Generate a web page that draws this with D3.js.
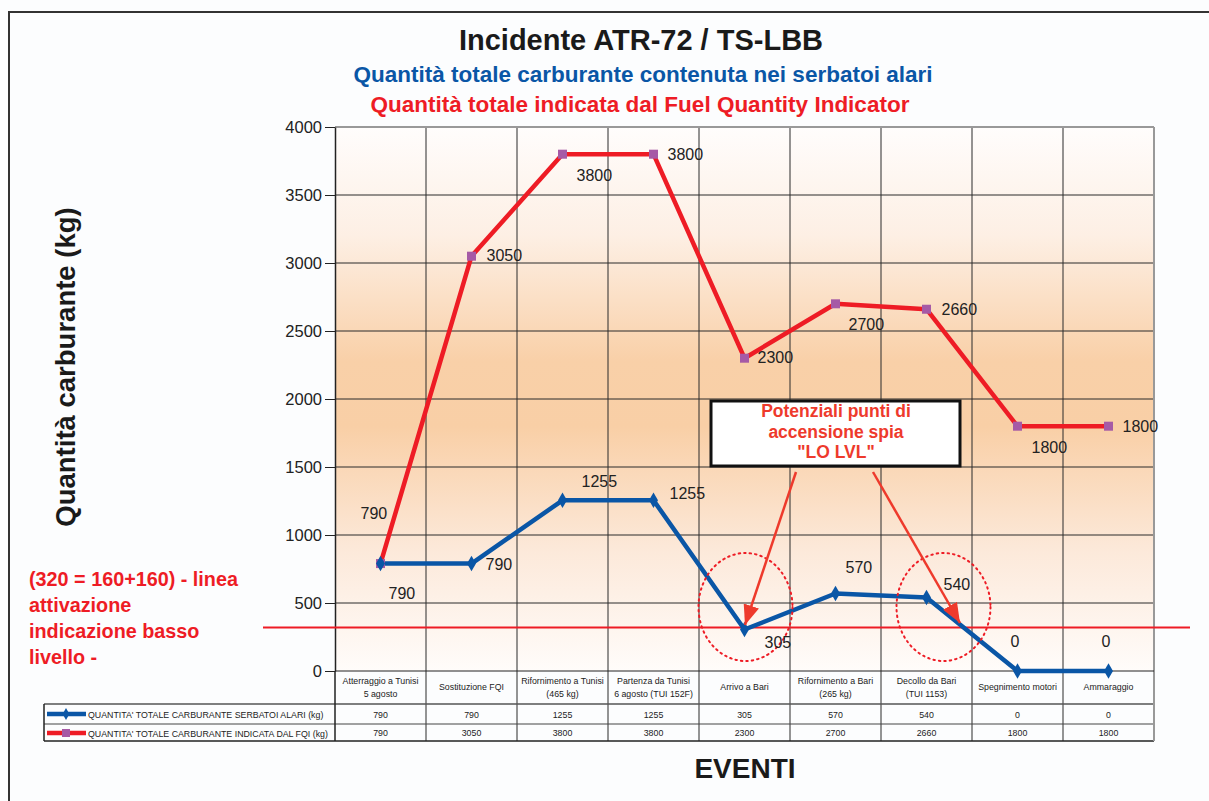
<!DOCTYPE html>
<html><head><meta charset="utf-8">
<script src="https://cdn.jsdelivr.net/npm/d3@7"></script>
<style>body{margin:0;background:#fcfdfe;font-family:"Liberation Sans",Arial,sans-serif;}</style>
</head><body><svg id="c" width="1209" height="801"></svg>
<script>
const categories = [
  ["Atterraggio a Tunisi","5 agosto"],
  ["Sostituzione FQI"],
  ["Rifornimento a Tunisi","(465 kg)"],
  ["Partenza da Tunisi","6 agosto (TUI 152F)"],
  ["Arrivo a Bari"],
  ["Rifornimento a Bari","(265 kg)"],
  ["Decollo da Bari","(TUI 1153)"],
  ["Spegnimento motori"],
  ["Ammaraggio"]
];
const serbatoi = [790, 790, 1255, 1255, 305, 570, 540, 0, 0];
const fqi = [790, 3050, 3800, 3800, 2300, 2700, 2660, 1800, 1800];
const yTicks = [0, 500, 1000, 1500, 2000, 2500, 3000, 3500, 4000];
const threshold = 320;
const seriesNames = ["QUANTITA' TOTALE CARBURANTE SERBATOI ALARI (kg)", "QUANTITA' TOTALE CARBURANTE INDICATA DAL FQI (kg)"];
// label offsets per point (layout only): [dx, dy] from the marker, text starts at dx
const blueLabelOff = [[8,35],[14,6],[19,-13],[16,-1],[20,18],[10,-20],[17,-8],[-7,-24],[-7,-24]];
const redLabelOff = [[-20,-45],[15,5],[14,27],[14,6],[13,5],[13,26],[15,6],[14,27],[14,6]];

(function(){
const svg = d3.select("#c");
const pL = 335, pR = 1154, pT = 127, pB = 671;
const x = d3.scaleBand().domain(d3.range(categories.length)).range([pL, pR]);
const y = d3.scaleLinear().domain([0, 4000]).range([pB, pT]);
const cx = i => x(i) + x.bandwidth() / 2;

// outer frame
svg.append("path").attr("d", "M9,801 L9,12 L1209,12").attr("fill","none").attr("stroke","#333").attr("stroke-width",2);

// gradient
const defs = svg.append("defs");
const g = defs.append("linearGradient").attr("id","bg").attr("x1",0).attr("y1",0).attr("x2",0).attr("y2",1);
[[0,"#fffdfc"],[0.2,"#fdefe4"],[0.43,"#f9d0a8"],[0.55,"#f9cfa6"],[0.78,"#fce9da"],[1,"#fffcfa"]].forEach(s=>g.append("stop").attr("offset",s[0]).attr("stop-color",s[1]));
svg.append("rect").attr("x",pL).attr("y",pT).attr("width",pR-pL).attr("height",pB-pT).attr("fill","url(#bg)");

// horizontal gridlines
svg.append("g").selectAll("line").data(yTicks.filter(t=>t>0 && t<4000)).join("line")
  .attr("x1",pL).attr("x2",pR).attr("y1",d=>y(d)).attr("y2",d=>y(d)).attr("stroke","#2a2a2a").attr("stroke-width",1);

// table
const tRow0 = pB, tRow1 = 704, tRow2 = 724, tRow3 = 741, tLeft = 44;
svg.append("g").selectAll("line").data(d3.range(1, categories.length)).join("line")
  .attr("x1",d=>x(d)).attr("x2",d=>x(d)).attr("y1",pT).attr("y2",tRow3).attr("stroke","#2a2a2a").attr("stroke-width",1);
svg.append("line").attr("x1",tLeft).attr("x2",pR).attr("y1",tRow1).attr("y2",tRow1).attr("stroke","#555").attr("stroke-width",1.5);
svg.append("line").attr("x1",tLeft).attr("x2",pR).attr("y1",tRow2).attr("y2",tRow2).attr("stroke","#444").attr("stroke-width",1);
svg.append("line").attr("x1",tLeft).attr("x2",pR).attr("y1",tRow3).attr("y2",tRow3).attr("stroke","#222").attr("stroke-width",1.5);
svg.append("line").attr("x1",tLeft).attr("x2",tLeft).attr("y1",tRow1).attr("y2",tRow3).attr("stroke","#222").attr("stroke-width",1.5);
svg.append("line").attr("x1",pL).attr("x2",pL).attr("y1",tRow0).attr("y2",tRow3).attr("stroke","#222").attr("stroke-width",1.5);
svg.append("line").attr("x1",pR).attr("x2",pR).attr("y1",pT).attr("y2",tRow3).attr("stroke","#999").attr("stroke-width",2);
svg.append("line").attr("x1",pL).attr("x2",pR).attr("y1",pT).attr("y2",pT).attr("stroke","#999").attr("stroke-width",2);
svg.append("line").attr("x1",pL).attr("x2",pR).attr("y1",pB).attr("y2",pB).attr("stroke","#222").attr("stroke-width",1);

// y axis
const yAxis = svg.append("g").attr("transform",`translate(${pL},0)`)
  .call(d3.axisLeft(y).tickValues(yTicks).tickFormat(d3.format("d")).tickSizeInner(10).tickSizeOuter(0).tickPadding(3));
yAxis.select(".domain").attr("stroke","#222").attr("stroke-width",1.5);
yAxis.selectAll(".tick line").attr("stroke","#222");
yAxis.selectAll(".tick text").attr("font-size",16.5).attr("fill","#222").attr("font-family","Liberation Sans, Arial, sans-serif");

// category labels
const catG = svg.append("g");
categories.forEach((c,i)=>{
  const t = catG.append("text").attr("x",cx(i)).attr("text-anchor","middle").attr("font-size",8.8).attr("fill","#222");
  if (c.length === 1) t.append("tspan").attr("x",cx(i)).attr("y",690).text(c[0]);
  else { t.append("tspan").attr("x",cx(i)).attr("y",684).text(c[0]); t.append("tspan").attr("x",cx(i)).attr("y",697).text(c[1]); }
});
// table values
[serbatoi, fqi].forEach((arr, r)=>{
  svg.append("g").selectAll("text").data(arr).join("text")
    .attr("x",(d,i)=>cx(i)).attr("y", r===0 ? 718 : 736).attr("text-anchor","middle").attr("font-size",8.8).attr("fill","#222").text(d=>d);
});
// legend in table
const legY = [714, 733];
const legCol = ["#0a56a6", "#ee1c25"];
legY.forEach((ly,k)=>{
  svg.append("line").attr("x1",47).attr("x2",86).attr("y1",ly).attr("y2",ly).attr("stroke",legCol[k]).attr("stroke-width",4.5);
  if (k===0) svg.append("path").attr("d",d3.symbol(d3.symbolDiamond,40)()).attr("transform",`translate(66,${ly})`).attr("fill",legCol[0]);
  else svg.append("rect").attr("x",62).attr("y",ly-4).attr("width",8).attr("height",8).attr("fill","#a65aa6");
  svg.append("text").attr("x",88).attr("y",ly+3.5).attr("font-size",8.8).attr("fill","#222").text(seriesNames[k]);
});

// threshold line
svg.append("line").attr("x1",263).attr("x2",1190).attr("y1",y(threshold)).attr("y2",y(threshold)).attr("stroke","#ee1c25").attr("stroke-width",2);

// lines
const line = d3.line().x((d,i)=>cx(i)).y(d=>y(d));
svg.append("path").datum(fqi).attr("d",line).attr("fill","none").attr("stroke","#ee1c25").attr("stroke-width",4.5).attr("stroke-linejoin","round");
svg.append("path").datum(serbatoi).attr("d",line).attr("fill","none").attr("stroke","#0a56a6").attr("stroke-width",4.5).attr("stroke-linejoin","round");
svg.append("g").selectAll("rect").data(fqi).join("rect")
  .attr("x",(d,i)=>cx(i)-4.5).attr("y",d=>y(d)-4.5).attr("width",9).attr("height",9).attr("fill","#a65aa6");
svg.append("g").selectAll("path").data(serbatoi).join("path")
  .attr("d",d3.symbol(d3.symbolDiamond,70)()).attr("transform",(d,i)=>`translate(${cx(i)},${y(d)})`).attr("fill","#0a56a6");

// dotted ellipses
const circleIdx = [4, 6];
const circleDx = [1, 17];
svg.append("g").selectAll("ellipse").data(circleIdx).join("ellipse")
  .attr("cx",(d,i)=> cx(d)+circleDx[i]).attr("cy",607).attr("rx",47).attr("ry",54)
  .attr("fill","none").attr("stroke","#ee1c25").attr("stroke-width",2).attr("stroke-dasharray","1.5,4").attr("stroke-linecap","round");

// labels
function labels(arr, offs){
  svg.append("g").selectAll("text").data(arr).join("text")
    .attr("x",(d,i)=>cx(i)+offs[i][0]).attr("y",(d,i)=>y(d)+offs[i][1])
    .attr("font-size",16).attr("fill","#222").text(d=>d);
}
labels(fqi, redLabelOff);
labels(serbatoi, blueLabelOff);

// callout box + arrows
defs.append("marker").attr("id","ah").attr("viewBox","0 0 20 16").attr("refX",20).attr("refY",8)
  .attr("markerWidth",20).attr("markerHeight",16).attr("orient","auto").attr("markerUnits","userSpaceOnUse")
  .append("path").attr("d","M0,0 L20,8 L0,16 z").attr("fill","#ee3a2c");
svg.append("line").attr("x1",796).attr("y1",472).attr("x2",745).attr("y2",625).attr("stroke","#ee3a2c").attr("stroke-width",2.5).attr("marker-end","url(#ah)");
svg.append("line").attr("x1",873).attr("y1",472).attr("x2",960).attr("y2",623).attr("stroke","#ee3a2c").attr("stroke-width",2.5).attr("marker-end","url(#ah)");
svg.append("rect").attr("x",711).attr("y",401).attr("width",249).attr("height",65).attr("fill","#fff").attr("stroke","#111").attr("stroke-width",3);
["Potenziali punti di","accensione spia","\"LO LVL\""].forEach((s,k)=>{
  svg.append("text").attr("x",836).attr("y",417+k*20.5).attr("text-anchor","middle").attr("font-size",17.5).attr("font-weight","bold").attr("fill","#ee3a2c").text(s);
});

// titles
svg.append("text").attr("x",641).attr("y",50).attr("text-anchor","middle").attr("font-size",29).attr("font-weight","bold").attr("fill","#1a1a1a").text("Incidente ATR-72 / TS-LBB");
svg.append("text").attr("x",643).attr("y",82).attr("text-anchor","middle").attr("font-size",22.5).attr("font-weight","bold").attr("fill","#0a56a6").text("Quantità totale carburante contenuta nei serbatoi alari");
svg.append("text").attr("x",640).attr("y",112).attr("text-anchor","middle").attr("font-size",22.5).attr("font-weight","bold").attr("fill","#ee1c25").text("Quantità totale indicata dal Fuel Quantity Indicator");
svg.append("text").attr("transform","translate(75,367) rotate(-90)").attr("text-anchor","middle").attr("font-size",27.5).attr("font-weight","bold").attr("fill","#1a1a1a").text("Quantità carburante (kg)");
svg.append("text").attr("x",745).attr("y",778).attr("text-anchor","middle").attr("font-size",28).attr("font-weight","bold").attr("fill","#1a1a1a").text("EVENTI");
["(320 = 160+160) - linea","attivazione","indicazione basso","livello -"].forEach((s,k)=>{
  svg.append("text").attr("x",29).attr("y",586+k*26).attr("font-size",19.8).attr("font-weight","bold").attr("fill","#ee1c25").text(s);
});
})();
</script></body></html>
